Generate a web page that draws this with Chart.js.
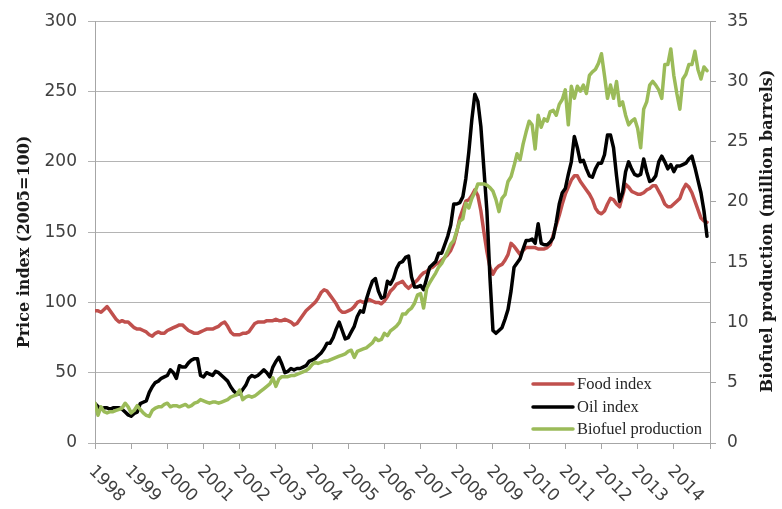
<!DOCTYPE html>
<html>
<head>
<meta charset="utf-8">
<script src="https://cdn.jsdelivr.net/npm/chart.js@4.4.1/dist/chart.umd.min.js"></script>
<style>
  html, body { margin: 0; padding: 0; background: #fff; }
  #wrap { width: 782px; height: 509px; }
</style>
</head>
<body>
<div id="wrap"><canvas id="chart" width="782" height="509"></canvas></div>
<script>
// year tick labels, monthly data starts Jan 1998
const years = ['1998', '1999', '2000', '2001', '2002', '2003', '2004', '2005', '2006',
  '2007', '2008', '2009', '2010', '2011', '2012', '2013', '2014'];

// Food price index (2005=100), monthly
const foodIndex = [
  94, 94, 93, 95, 97, 94, 91, 88, 86, 87, 86, 86,
  84, 82, 81, 81, 80, 79, 77, 76, 78, 79, 78, 78,
  80, 81, 82, 83, 84, 84, 82, 80, 79, 78, 78, 79,
  80, 81, 81, 81, 82, 83, 85, 86, 83, 79, 77, 77,
  77, 78, 78, 79, 82, 85, 86, 86, 86, 87, 87, 87,
  88, 87, 87, 88, 87, 86, 84, 85, 88, 91, 94, 96,
  98, 100, 103, 107, 109, 108, 105, 102, 99, 95, 93, 93,
  94, 95, 97, 100, 101, 100, 101, 102, 101, 100, 100, 99,
  101, 104, 108, 110, 113, 114, 115, 112, 110, 112, 114, 116,
  119, 121, 122, 124, 125, 127, 128, 130, 132, 134, 137, 142,
  150, 160, 166, 172, 173, 176, 180, 176, 165, 150, 136, 125,
  120, 124, 126, 127, 130, 134, 142, 140, 137, 134, 137, 139,
  139, 139, 139, 138, 138, 138, 139, 141, 148, 155, 162, 170,
  177, 182, 187, 190, 190, 186, 183, 180, 177, 173, 167, 164,
  163, 165, 170, 174, 173, 170, 168, 176, 184, 182, 179, 178,
  177, 177, 178, 180, 181, 183, 183, 179, 175, 170, 168, 168,
  170, 172, 174, 180, 184, 182, 178, 172, 166, 160, 158, 157
];

// Oil price index (2005=100), monthly
const oilIndex = [
  28, 26, 24, 25, 25, 24, 25, 25, 25, 24, 22, 20,
  19, 21, 22, 28, 29, 30, 36, 40, 43, 44, 46, 47,
  48, 52, 50, 46, 55, 54, 54, 57, 59, 60, 60, 48,
  47, 50, 49, 48, 51, 50, 48, 46, 44, 40, 37, 35,
  35, 38, 41, 46, 48, 47, 48, 50, 52, 50, 47, 54,
  58, 61, 56, 50, 51, 53, 52, 53, 53, 54, 55, 58,
  59, 60, 62, 64, 67, 71, 71, 75, 81, 86, 80, 74,
  75, 79, 83, 90, 94, 93, 102, 109, 115, 117, 108, 103,
  104, 115, 113, 117, 124, 128, 129, 132, 133, 118, 111, 111,
  112, 109, 117, 125, 127, 129, 135, 135, 141, 147, 155, 170,
  170, 171, 175, 188, 207, 230, 248, 243, 225, 195, 165, 118,
  80, 78, 80, 82, 88, 95, 108, 125, 128, 131, 138, 144,
  144, 145, 142, 156, 142, 141, 141, 143, 146, 157, 170, 178,
  181, 191, 200, 218, 210, 200, 201, 195, 190, 189, 195, 199,
  199, 205, 219, 219, 210, 190, 172, 178, 193, 200, 195, 191,
  190, 191, 202, 193, 186, 187, 190, 200, 204, 200, 195, 198,
  193, 197, 197, 198, 199, 202, 204, 196, 187, 178, 165, 147
];

// Biofuel production (million barrels), monthly
const biofuel = [
  3.3, 2.3, 3.0, 2.6, 2.5, 2.6, 2.6, 2.7, 2.8, 2.9, 3.3, 3.0,
  2.5, 2.7, 3.1, 2.8, 2.5, 2.3, 2.2, 2.7, 2.9, 3.0, 3.0, 3.2,
  3.3, 3.0, 3.1, 3.1, 3.0, 3.1, 3.2, 3.0, 3.1, 3.3, 3.4, 3.6,
  3.5, 3.4, 3.3, 3.4, 3.4, 3.3, 3.4, 3.5, 3.6, 3.8, 3.9, 4.0,
  4.4, 3.6, 3.8, 3.9, 3.8, 3.9, 4.1, 4.3, 4.5, 4.7, 4.9, 5.4,
  4.7, 5.3, 5.5, 5.5, 5.5, 5.6, 5.6, 5.7, 5.8, 5.9, 6.0, 6.2,
  6.5, 6.7, 6.6, 6.7, 6.8, 6.8, 6.9, 7.0, 7.1, 7.2, 7.3, 7.4,
  7.6, 7.7, 7.1, 7.6, 7.7, 7.8, 7.9, 8.1, 8.3, 8.7, 8.5, 8.6,
  9.1, 8.9, 9.3, 9.5, 9.7, 10.0, 10.7, 10.7, 11.0, 11.2, 11.6, 12.3,
  12.4, 11.2, 12.8, 13.3, 13.7, 14.1, 14.6, 14.9, 15.4, 15.9, 16.5, 16.8,
  17.6, 18.4, 18.6, 19.9, 19.5, 20.3, 20.8, 21.5, 21.5, 21.5, 21.4, 21.2,
  20.9, 20.2, 19.2, 20.3, 20.6, 21.7, 22.1, 23.0, 24.0, 23.5, 24.8, 25.8,
  26.7, 26.4, 24.4, 27.2, 26.2, 26.9, 26.7, 27.5, 27.6, 27.2, 28.1, 28.5,
  29.3, 26.4, 29.6, 28.6, 29.6, 29.2, 29.7, 29.0, 30.5, 30.8, 31.0, 31.5,
  32.3, 30.5, 28.6, 29.7, 28.6, 30.0, 28.0, 28.3, 27.2, 26.4, 26.7, 26.9,
  26.1, 24.5, 27.7, 28.3, 29.7, 30.0, 29.7, 29.3, 28.6, 31.4, 31.4, 32.7,
  30.5, 29.0, 27.7, 30.2, 30.6, 31.4, 31.4, 32.5, 31.0, 30.2, 31.2, 30.9
];

const seriesNames = ['Food index', 'Oil index', 'Biofuel production'];
const seriesColors = ['#c0504d', '#000000', '#9bbb59'];
const leftTitle = 'Price index (2005=100)';
const rightTitle = 'Biofuel production (million barrels)';

const axisGray = '#a6a6a6';
const gridGray = '#b4b4b4';
const tickColor = '#404040';
const tickFont = { family: "'DejaVu Sans', Verdana, sans-serif", size: 17 };

// monthly values -> {x: decimal year, y}
const startYear = Number(years[0]);
const toPoints = (arr) => arr.map((v, i) => ({ x: startYear + i / 12, y: v }));

//draws rotated year labels, axis titles and the legend box
const textPlugin = {
  id: 'textPlugin',
  afterDraw(chart) {
    const { ctx, chartArea, scales } = chart;
    ctx.save();

    // x labels, rotated 45deg clockwise starting at the tick
    ctx.font = "17px 'DejaVu Sans'";
    ctx.fillStyle = tickColor;
    ctx.textAlign = 'left';
    ctx.textBaseline = 'alphabetic';
    years.forEach((yr) => {
      const px = scales.x.getPixelForValue(Number(yr));
      ctx.save();
      ctx.translate(px + 2, chartArea.bottom + 20);
      ctx.rotate(Math.PI / 4);
      ctx.fillText(yr, 0, 12.5);
      ctx.restore();
    });

    // axis titles (both read bottom to top)
    ctx.font = "bold 16px 'DejaVu Serif'";
    ctx.fillStyle = '#1a1a1a';
    ctx.textAlign = 'center';
    ctx.textBaseline = 'middle';
    ctx.save();
    ctx.translate(25, 242);
    ctx.rotate(-Math.PI / 2);
    ctx.fillText(leftTitle, 0, 0);
    ctx.restore();
    ctx.save();
    ctx.translate(768, 231);
    ctx.rotate(-Math.PI / 2);
    ctx.fillText(rightTitle, 0, 0);
    ctx.restore();

    // legend inside plot, lower right
    ctx.font = "16.5px 'Liberation Serif'";
    ctx.textAlign = 'left';
    ctx.fillStyle = '#262626';
    const rows = [chartArea.bottom - 59, chartArea.bottom - 36, chartArea.bottom - 14];
    const x0 = chartArea.right - 177;
    seriesNames.forEach((name, i) => {
      ctx.strokeStyle = seriesColors[i];
      ctx.lineWidth = 3.5;
      ctx.lineCap = 'round';
      ctx.beginPath();
      ctx.moveTo(x0, rows[i]);
      ctx.lineTo(x0 + 40, rows[i]);
      ctx.stroke();
      ctx.fillStyle = '#262626';
      ctx.fillText(name, x0 + 44, rows[i] + 1);
    });
    ctx.restore();
  }
};

new Chart(document.getElementById('chart'), {
  type: 'line',
  data: {
    datasets: [
      { label: seriesNames[0], data: toPoints(foodIndex), borderColor: seriesColors[0], yAxisID: 'y', order: 2 },
      { label: seriesNames[1], data: toPoints(oilIndex), borderColor: seriesColors[1], yAxisID: 'y', order: 1 },
      { label: seriesNames[2], data: toPoints(biofuel), borderColor: seriesColors[2], yAxisID: 'y1', order: 0 },
    ],
  },
  options: {
    responsive: false,
    animation: false,
    devicePixelRatio: 1,
    layout: { padding: { top: 19, bottom: 60, left: 0, right: 0 } },
    elements: {
      point: { radius: 0 },
      line: { borderWidth: 3.5, tension: 0, borderJoinStyle: 'round', borderCapStyle: 'round', fill: false },
    },
    plugins: {
      legend: { display: false },
      tooltip: { enabled: false },
    },
    scales: {
      x: {
        type: 'linear',
        min: 1998,
        max: 2015,
        ticks: { display: false, stepSize: 1 },
        grid: { drawOnChartArea: false, tickLength: 6, color: axisGray },
        border: { color: axisGray },
      },
      y: {
        position: 'left',
        min: 0,
        max: 300,
        ticks: { stepSize: 50, font: tickFont, color: tickColor, padding: 11 },
        grid: { color: gridGray, tickLength: 7 },
        border: { color: axisGray },
        afterFit: (s) => { s.width = 95; },
      },
      y1: {
        position: 'right',
        min: 0,
        max: 35,
        ticks: { stepSize: 5, font: tickFont, color: tickColor, padding: 11 },
        grid: { drawOnChartArea: false, tickLength: 6, color: axisGray },
        border: { color: axisGray },
        afterFit: (s) => { s.width = 72; },
      },
    },
  },
  plugins: [textPlugin],
});
</script>
</body>
</html>
